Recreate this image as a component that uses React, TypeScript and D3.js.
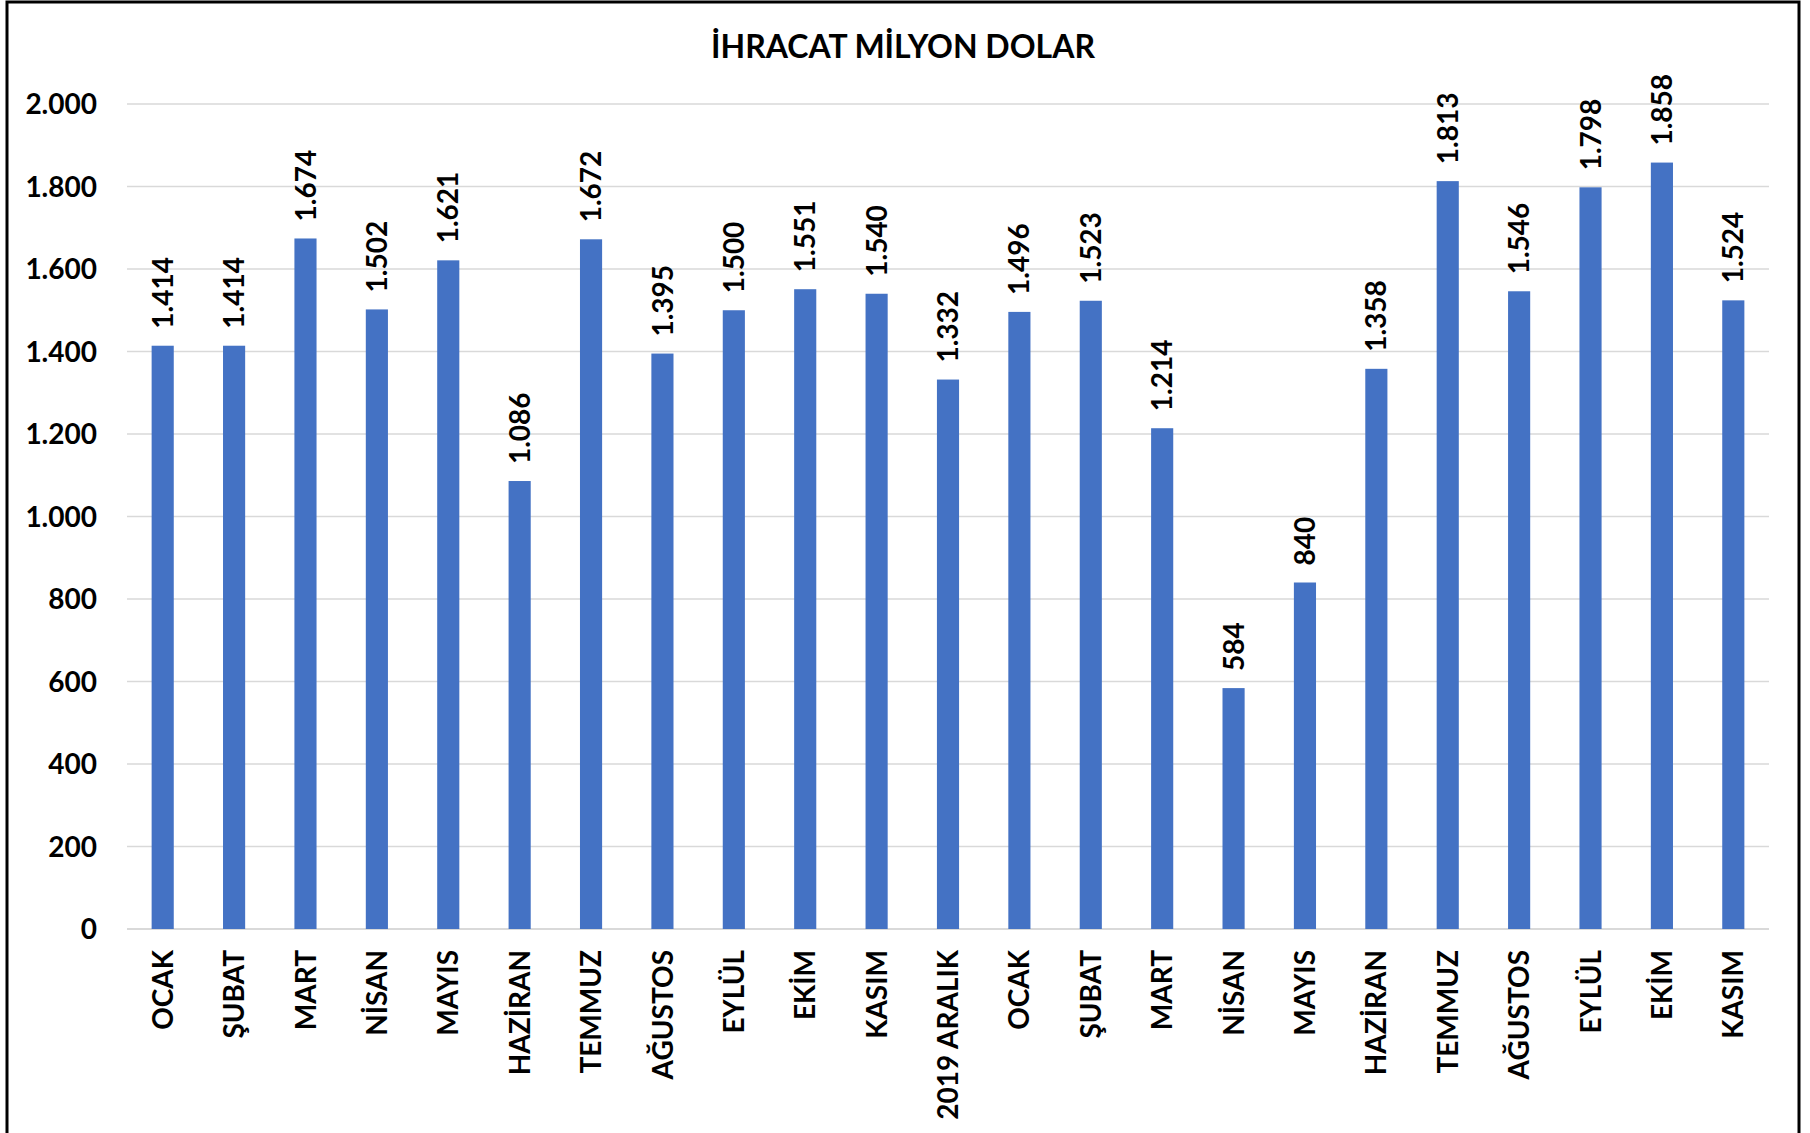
import React, { useEffect, useRef } from 'react';
import * as d3 from 'd3';

const months = [
  'OCAK', 'ŞUBAT', 'MART', 'NİSAN', 'MAYIS', 'HAZİRAN', 'TEMMUZ', 'AĞUSTOS',
  'EYLÜL', 'EKİM', 'KASIM', '2019 ARALIK', 'OCAK', 'ŞUBAT', 'MART', 'NİSAN',
  'MAYIS', 'HAZİRAN', 'TEMMUZ', 'AĞUSTOS', 'EYLÜL', 'EKİM', 'KASIM',
];
const exports = [
  1414, 1414, 1674, 1502, 1621, 1086, 1672, 1395, 1500, 1551, 1540, 1332,
  1496, 1523, 1214, 584, 840, 1358, 1813, 1546, 1798, 1858, 1524,
];
const yTicks = [0, 200, 400, 600, 800, 1000, 1200, 1400, 1600, 1800, 2000];
const title = 'İHRACAT MİLYON DOLAR';

const App = () => {
  const ref = useRef<SVGSVGElement>(null);

  useEffect(() => {
    const width = 1810;
    const height = 1133;
    const margin = { top: 104, right: 41, bottom: 204, left: 127 };
    const font = 'Lato, "Open Sans", sans-serif';

    const svg = d3.select(ref.current);
    svg.selectAll('*').remove();

    // white background + chart border
    svg.append('rect').attr('width', width).attr('height', height).attr('fill', '#fff');
    svg
      .append('rect')
      .attr('x', 7)
      .attr('y', 2)
      .attr('width', 1792)
      .attr('height', height + 10)
      .attr('fill', 'none')
      .attr('stroke', '#000')
      .attr('stroke-width', 3);

    const fmt = d3.formatLocale({ decimal: ',', thousands: '.', grouping: [3], currency: ['', ''] }).format(',d');

    const x = d3
      .scaleBand<number>()
      .domain(months.map((d, i) => i))
      .range([margin.left, width - margin.right])
      .paddingInner(0.69)
      .paddingOuter(0.345);

    const y = d3
      .scaleLinear()
      .domain([0, 2000])
      .range([height - margin.bottom, margin.top]);

    // title
    svg
      .append('text')
      .attr('x', 903)
      .attr('y', 58)
      .attr('text-anchor', 'middle')
      .style('font-family', font)
      .style('font-weight', 700)
      .style('font-size', '32px')
      .text(title);

    // gridlines
    svg
      .append('g')
      .selectAll('line')
      .data(yTicks)
      .enter()
      .append('line')
      .attr('x1', margin.left)
      .attr('x2', width - margin.right)
      .attr('y1', (d) => y(d))
      .attr('y2', (d) => y(d))
      .attr('stroke', '#d9d9d9')
      .attr('stroke-width', (d) => (d === 0 ? 2 : 1.5));

    // y tick labels
    svg
      .append('g')
      .selectAll('text')
      .data(yTicks)
      .enter()
      .append('text')
      .attr('x', 97)
      .attr('y', (d) => y(d))
      .attr('dy', '0.36em')
      .attr('text-anchor', 'end')
      .style('font-family', font)
      .style('font-weight', 700)
      .style('font-size', '28px')
      .text((d) => fmt(d));

    // bars
    svg
      .append('g')
      .selectAll('rect')
      .data(exports)
      .enter()
      .append('rect')
      .attr('x', (d, i) => x(i) as number)
      .attr('y', (d) => y(d))
      .attr('width', x.bandwidth())
      .attr('height', (d) => y(0) - y(d))
      .attr('fill', '#4472c4');

    // value labels
    svg
      .append('g')
      .selectAll('text')
      .data(exports)
      .enter()
      .append('text')
      .attr('transform', (d, i) => `translate(${(x(i) as number) + x.bandwidth() / 2},${y(d) - 17}) rotate(-90)`)
      .attr('dy', '0.36em')
      .attr('text-anchor', 'start')
      .style('font-family', font)
      .style('font-weight', 700)
      .style('font-size', '28px')
      .text((d) => fmt(d));

    // category labels
    svg
      .append('g')
      .selectAll('text')
      .data(months)
      .enter()
      .append('text')
      .attr('transform', (d, i) => `translate(${(x(i) as number) + x.bandwidth() / 2},${y(0) + 21}) rotate(-90)`)
      .attr('dy', '0.36em')
      .attr('text-anchor', 'end')
      .style('font-family', font)
      .style('font-weight', 700)
      .style('font-size', '28px')
      .text((d) => d);
  }, []);

  return (
    <div style={{ position: 'absolute', left: 0, top: 0 }}>
      <svg ref={ref} width={1810} height={1133} style={{ display: 'block' }} />
    </div>
  );
};

export default App;
